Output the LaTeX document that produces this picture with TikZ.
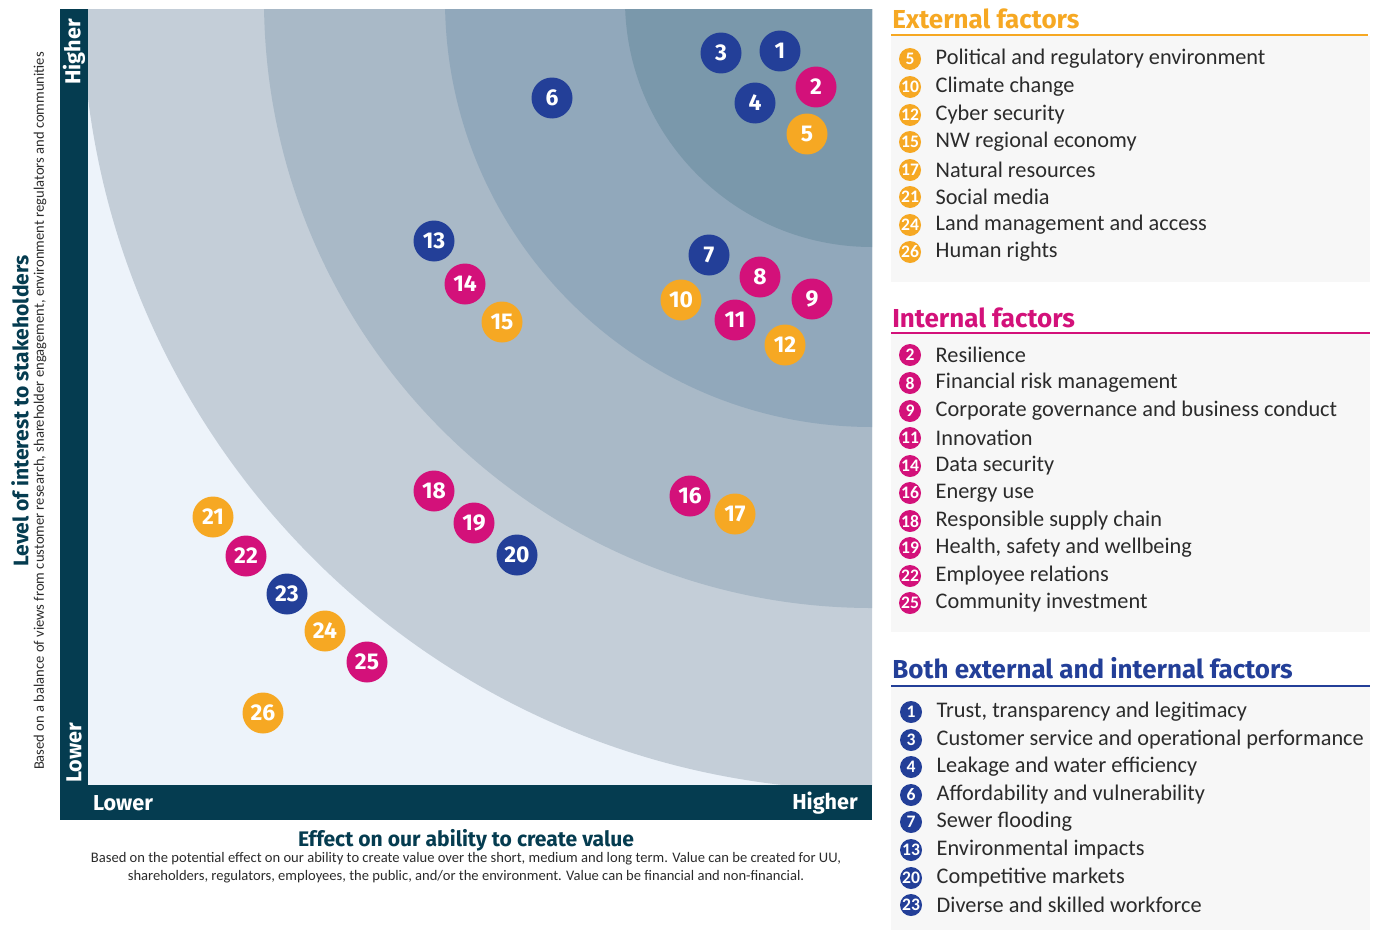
\documentclass[tikz,border=0pt]{standalone}
\usepackage{fontspec}
\setmainfont{Carlito}
\newfontfamily\headfont{Fira Sans}
\usetikzlibrary{positioning}
\definecolor{framecol}{HTML}{053C50}
\definecolor{extcol}{HTML}{F6A823}
\definecolor{intcol}{HTML}{D3117A}
\definecolor{bothcol}{HTML}{233F98}
\definecolor{plotbg}{HTML}{EDF3FA}
\definecolor{ringa}{HTML}{C4CED8}
\definecolor{ringb}{HTML}{A9B9C7}
\definecolor{ringc}{HTML}{91A8BB}
\definecolor{ringd}{HTML}{7A98AB}
\definecolor{panelcol}{HTML}{F7F7F7}
\definecolor{textcol}{HTML}{2B2B2B}
\tikzstyle{bubble}=[circle,minimum size=0.82cm,inner sep=0pt,text=white,font=\headfont\bfseries\fontsize{13}{13}\selectfont]
\tikzstyle{dot}=[circle,minimum size=0.44cm,inner sep=0pt,text=white,font=\bfseries\fontsize{10}{10}\selectfont]
\tikzstyle{item}=[inner sep=0pt,text=textcol,font=\fontsize{12.7}{13}\selectfont]
\tikzstyle{heading}=[anchor=base west,inner sep=0pt,font=\headfont\bfseries\fontsize{14.8}{14.8}\selectfont]
\tikzstyle{axislabel}=[inner sep=0pt,text=white,font=\headfont\bfseries\fontsize{12.3}{12.3}\selectfont]
\tikzstyle{axistitle}=[inner sep=0pt,text=framecol,font=\headfont\bfseries\fontsize{12}{12}\selectfont]
\tikzstyle{note}=[inner sep=0pt,text=textcol,font=\fontsize{8.3}{10.2}\selectfont]

\begin{document}
\begin{tikzpicture}[x=0.02cm,y=-0.02cm]
\useasboundingbox (0,0) rectangle (1381,930);

% First we draw the plot with its rings
\begin{scope}
  \clip (88,9) rectangle (872,785);
  \fill[plotbg] (88,9) rectangle (872,785);
  \foreach \r/\col in {790/ringa, 608/ringb, 427/ringc, 247/ringd}
    \fill[\col] (872,0) circle (\r);
\end{scope}
\fill[framecol] (60,9) rectangle (88,820);
\fill[framecol] (60,785) rectangle (872,820);

% Axis ends and titles
\node[axislabel,rotate=90] (yhigh) at (74,52) {Higher};
\node[axislabel,rotate=90] (ylow) at (74,753) {Lower};
\node[axislabel] (xlow) at (123,803) {Lower};
\node[axislabel] (xhigh) at (825,803) {Higher};
\node[axistitle] (xtitle) at (466,840) {Effect on our ability to create value};
\node[note,align=center] (xnote) at (466,868) {Based on the potential effect on our ability to create value over the short, medium and long term. Value can be created for UU,\\shareholders, regulators, employees, the public, and/or the environment. Value can be financial and non-financial.};
\node[axistitle,rotate=90] (ytitle) at (20,411) {Level of interest to stakeholders};
\node[note,rotate=90] (ynote) at (40,411) {Based on a balance of views from customer research, shareholder engagement, environment regulators and communities};

% Then the bubbles
\foreach \pos/\name/\col in {{(780,51)/1/bothcol}, {(816,87)/2/intcol}, {(721,53)/3/bothcol},
                             {(755,103)/4/bothcol}, {(807,134)/5/extcol}, {(552,98)/6/bothcol},
                             {(709,255)/7/bothcol}, {(760,277)/8/intcol}, {(812,299)/9/intcol},
                             {(681,300)/10/extcol}, {(735,320)/11/intcol}, {(785,345)/12/extcol},
                             {(434,241)/13/bothcol}, {(465,284)/14/intcol}, {(502,322)/15/extcol},
                             {(690,496)/16/intcol}, {(735,514)/17/extcol}, {(434,491)/18/intcol},
                             {(474,523)/19/intcol}, {(517,555)/20/bothcol}, {(213,517)/21/extcol},
                             {(246,556)/22/intcol}, {(287,594)/23/bothcol}, {(325,631)/24/extcol},
                             {(367,662)/25/intcol}, {(263,713)/26/extcol}}
  \node[bubble,fill=\col] (b\name) at \pos {\name};

% Legend panels
\fill[panelcol] (891,36) rectangle (1370,282);
\fill[panelcol] (891,334) rectangle (1370,632);
\fill[panelcol] (891,687) rectangle (1370,930);
\draw[extcol,line width=0.7pt] (891,35) -- (1368,35);
\draw[intcol,line width=0.7pt] (891,333) -- (1370,333);
\draw[bothcol,line width=0.7pt] (891,686) -- (1370,686);
\node[heading,text=extcol] (exthead) at (892,28) {External factors};
\node[heading,text=intcol] (inthead) at (892,327) {Internal factors};
\node[heading,text=bothcol] (bothhead) at (892,678) {Both external and internal factors};

\foreach \y/\num/\txt in {59/5/Political and regulatory environment, 87/10/Climate change,
                          115/12/Cyber security, 142/15/NW regional economy, 170/17/Natural resources,
                          197/21/Social media, 225/24/Land management and access, 252/26/Human rights}{
  \node[dot,fill=extcol] (l\num) at (910,\y) {\num};
  \node[item,right=0.28cm of l\num] (t\num) {\txt};
}
\foreach \y/\num/\txt in {355/2/Resilience, 383/8/Financial risk management,
                          411/9/Corporate governance and business conduct, 438/11/Innovation,
                          466/14/Data security, 493/16/Energy use, 521/18/Responsible supply chain,
                          548/19/{Health, safety and wellbeing}, 576/22/Employee relations,
                          603/25/Community investment}{
  \node[dot,fill=intcol] (l\num) at (910,\y) {\num};
  \node[item,right=0.28cm of l\num] (t\num) {\txt};
}
\foreach \y/\num/\txt in {712/1/{Trust, transparency and legitimacy},
                          740/3/Customer service and operational performance,
                          767/4/Leakage and water efficiency, 795/6/Affordability and vulnerability,
                          822/7/Sewer flooding, 850/13/Environmental impacts,
                          878/20/Competitive markets, 905/23/Diverse and skilled workforce}{
  \node[dot,fill=bothcol] (l\num) at (911,\y) {\num};
  \node[item,right=0.28cm of l\num] (t\num) {\txt};
}
\end{tikzpicture}
\end{document}
